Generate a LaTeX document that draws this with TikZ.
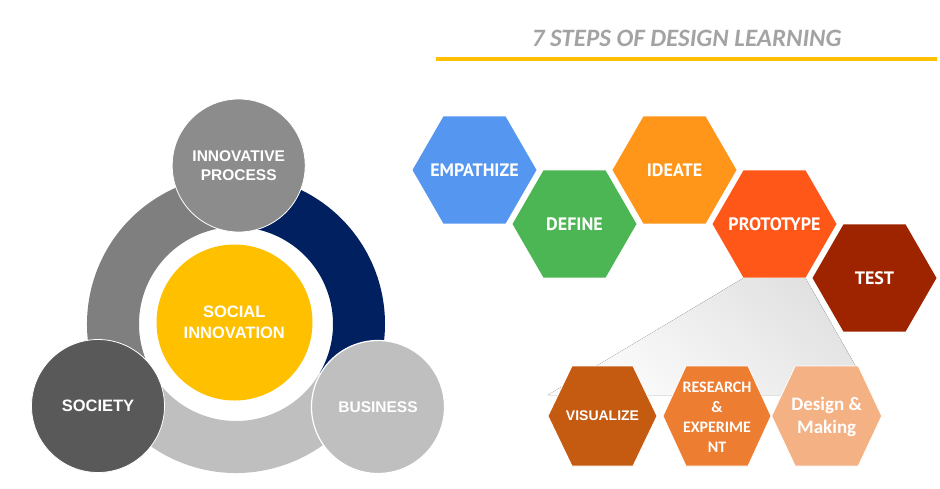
\documentclass[tikz,border=0pt]{standalone}
\usepackage{fontspec}
\usetikzlibrary{calc}
\newfontfamily\carlito{Carlito}
\newfontfamily\libsans{Liberation Sans}
\newfontfamily\ptsans{PT Sans}
\definecolor{ringgray}{HTML}{7F7F7F}
\definecolor{ringnavy}{HTML}{002060}
\definecolor{ringlight}{HTML}{BFBFBF}
\definecolor{topcirc}{HTML}{8C8C8C}
\definecolor{soccirc}{HTML}{595959}
\definecolor{buscirc}{HTML}{BFBFBF}
\definecolor{yel}{HTML}{FFC000}
\definecolor{empc}{HTML}{5596F1}
\definecolor{defc}{HTML}{4CB654}
\definecolor{idec}{HTML}{FF9619}
\definecolor{proc}{HTML}{FF5718}
\definecolor{tstc}{HTML}{9E2400}
\definecolor{visc}{HTML}{C55A11}
\definecolor{resc}{HTML}{ED7D31}
\definecolor{desc}{HTML}{F4B183}
\definecolor{titlec}{HTML}{A3A3A3}
\newcommand\hexpath[7]{%
  \fill[#7] (#2-#4,#3) -- (#2-#5,#3-#6) -- (#2+#5,#3-#6) -- (#2+#4,#3)
    -- (#2+#5,#3+#6) -- (#2-#5,#3+#6) -- cycle;
  \coordinate (#1) at (#2,#3);
}
\tikzset{
  circtext/.style={text=white, align=center, inner sep=0pt,
    font=\libsans\bfseries\fontsize{15.5}{18.7}\selectfont},
  bigcirc/.style={circle, draw=white, line width=0.8pt, minimum size=133pt, inner sep=0pt},
  toptext/.style={text=white, inner sep=0pt, font=\ptsans\bfseries\fontsize{18}{20}\selectfont},
  bottext/.style={text=white, inner sep=0pt, align=center},
  topfill/.style={fill=#1},
  botfill/.style={fill=#1, draw=white, line width=0.8pt},
}
\begin{document}
\begin{tikzpicture}[x=1pt,y=-1pt]
\useasboundingbox (0,0) rectangle (940,488);
% title
\node[font=\carlito\bfseries\itshape\fontsize{25}{29}\selectfont, text=titlec, inner sep=0pt] (title) at (686.7,38) {7 STEPS OF DESIGN LEARNING};
\draw[yel, line width=3.7pt] (436,59.2) -- (937.3,59.2);
% ring
\coordinate (O) at (236,324);
\fill[ringnavy] ($(O)+(-90:149)$) arc[start angle=-90, end angle=30, radius=149]
  -- ($(O)+(30:97)$) arc[start angle=30, end angle=-90, radius=97] -- cycle;
\fill[ringlight] ($(O)+(30:149)$) arc[start angle=30, end angle=150, radius=149]
  -- ($(O)+(150:97)$) arc[start angle=150, end angle=30, radius=97] -- cycle;
\fill[ringgray] ($(O)+(150:149)$) arc[start angle=150, end angle=270, radius=149]
  -- ($(O)+(270:97)$) arc[start angle=270, end angle=150, radius=97] -- cycle;
\node[circle, fill=yel, minimum size=156pt, inner sep=0pt] (core) at (234.5,322.5) {};
\node[circtext, font=\libsans\bfseries\fontsize{16.5}{21}\selectfont] (coretext) at (234.3,322.8) {SOCIAL\\INNOVATION};
% satellite circles
\node[bigcirc, fill=topcirc] (innov) at (238.7,165.5) {};
\node[circtext] at (innov) {INNOVATIVE\\PROCESS};
\node[bigcirc, fill=soccirc] (soc) at (98,406) {};
\node[circtext, font=\libsans\bfseries\fontsize{16.5}{20}\selectfont] at (soc) {SOCIETY};
\node[bigcirc, fill=buscirc, line width=1.2pt] (bus) at (378,407) {};
\node[circtext] at (bus) {BUSINESS};
% funnel
\fill[top color=gray!24, bottom color=gray!2, shading angle=-40]
  (743.5,278) -- (805.5,278) -- (872,395) -- (548,395) -- cycle;
% top hexagons
\hexpath{emp}{474.5}{170}{62}{31}{53.7}{topfill=empc}
\hexpath{def}{574.5}{224}{62}{31}{53.7}{topfill=defc}
\hexpath{ide}{674.5}{170}{62}{31}{53.7}{topfill=idec}
\hexpath{pro}{774.5}{224}{62}{31}{53.7}{topfill=proc}
\hexpath{tst}{874.5}{278}{62}{31}{53.7}{topfill=tstc}
\node[toptext] (empt) at (emp) {EMPATHIZE};
\node[toptext] (deft) at (def) {DEFINE};
\node[toptext] (idet) at (ide) {IDEATE};
\node[toptext] (prot) at (pro) {PROTOTYPE};
\node[toptext] (tstt) at (tst) {TEST};
% bottom hexagons
\hexpath{vis}{602.5}{416}{54.5}{30.5}{50}{botfill=visc}
\hexpath{res}{717}{416}{54}{31}{50}{botfill=resc}
\hexpath{des}{826.7}{416}{55}{31.5}{50}{botfill=desc}
\node[bottext, font=\libsans\bfseries\fontsize{14}{16}\selectfont] (vist) at (vis) {VISUALIZE};
\node[bottext, font=\carlito\bfseries\fontsize{16}{20}\selectfont] (rest) at (717,417.5) {RESEARCH\\\&\\EXPERIME\\NT};
\node[bottext, font=\carlito\bfseries\fontsize{19}{23.6}\selectfont] (dest) at (826.7,417) {Design \&\\Making};
\end{tikzpicture}
\end{document}
